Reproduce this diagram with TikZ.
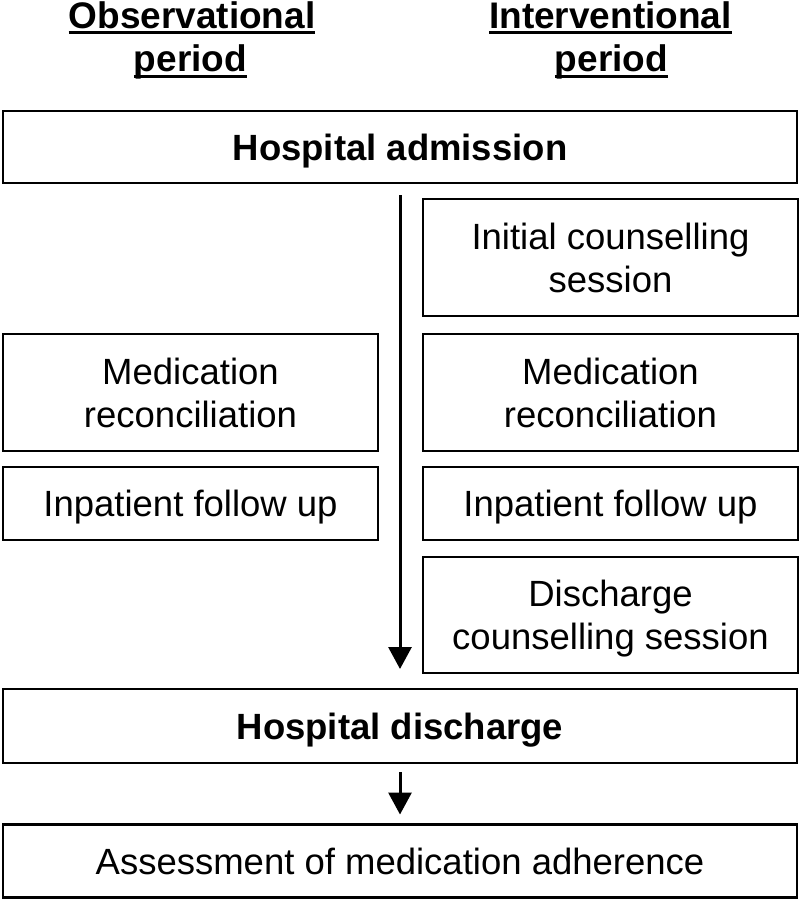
\documentclass[tikz,border=0pt]{standalone}
\usepackage{fontspec}
\setmainfont{Liberation Sans}
\usetikzlibrary{arrows.meta}
\begin{document}
\begin{tikzpicture}[x=1pt,y=-1pt,
  every node/.style={inner sep=0pt, outer sep=0pt},
  box/.style={draw=black, line width=2.5pt, align=center, font=\fontsize{36.5}{43}\selectfont},
  boxone/.style={box, text height=26pt, text depth=0pt},
  boldbox/.style={boxone, font=\fontsize{36.5}{43}\selectfont\bfseries},
  head/.style={font=\fontsize{37}{43}\selectfont\bfseries, anchor=base},
  uline/.style={line width=3pt},
  flow/.style={line width=3pt, -{Triangle[width=23pt,length=22pt]}}
]
\useasboundingbox (0,0) rectangle (800,900);

% headings
\node[head] (o1) at (192,28) {Observational};
\node[head] (o2) at (190.5,71) {period};
\node[head] (i1) at (610.5,28) {Interventional};
\node[head] (i2) at (611.5,71) {period};
\draw[uline] ([yshift=-4.5pt]o1.base west) -- ([yshift=-4.5pt]o1.base east);
\draw[uline] ([yshift=-5.5pt]o2.base west) -- ([yshift=-5.5pt]o2.base east);
\draw[uline] ([yshift=-4.5pt]i1.base west) -- ([yshift=-4.5pt]i1.base east);
\draw[uline] ([yshift=-5.5pt]i2.base west) -- ([yshift=-5.5pt]i2.base east);

% boxes
\node[boldbox, minimum width=794pt, minimum height=72pt] (adm) at (400,147) {Hospital admission};

\node[box, minimum width=375pt, minimum height=117pt] (init) at (610.5,257.5) {Initial counselling\\session};
\node[box, minimum width=375pt, minimum height=117pt] (rmed) at (610.5,392.5) {Medication\\reconciliation};
\node[boxone, minimum width=375pt, minimum height=73pt] (rinp) at (610.5,503.5) {Inpatient follow up};
\node[box, minimum width=375pt, minimum height=116pt] (rdis) at (610.5,615) {\rule{0pt}{33pt}Discharge\\counselling session};

\node[box, minimum width=375pt, minimum height=117pt] (lmed) at (190.5,392.5) {Medication\\reconciliation};
\node[boxone, minimum width=375pt, minimum height=73pt] (linp) at (190.5,503.5) {Inpatient follow up};

\node[boldbox, minimum width=794pt, minimum height=74pt] (dis) at (400,726) {Hospital discharge};
\node[boxone, minimum width=794pt, minimum height=73pt] (ass) at (400,861) {Assessment of medication adherence};

% arrows
\draw[flow, shorten <=12pt, shorten >=20pt] (adm.south) -- (dis.north);
\draw[flow, shorten <=9pt, shorten >=10pt] (dis.south) -- (ass.north);
\end{tikzpicture}
\end{document}
